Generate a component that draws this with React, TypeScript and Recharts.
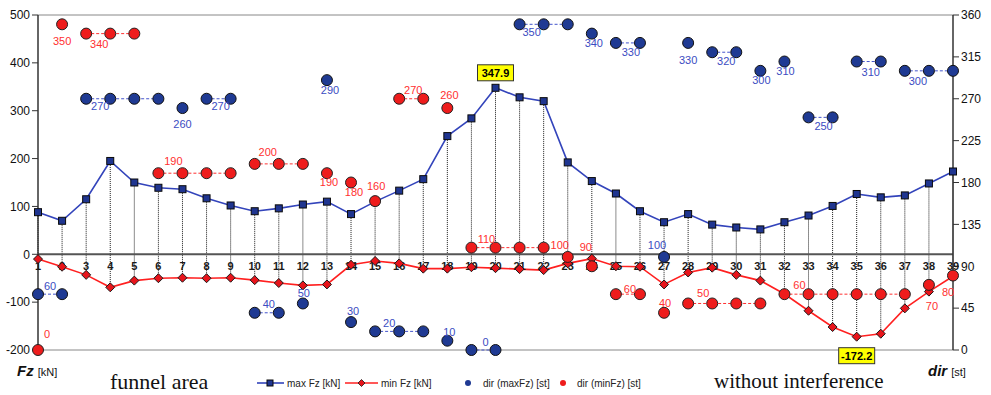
import { ComposedChart, Line, Scatter, XAxis, YAxis, ReferenceLine, ReferenceDot } from 'recharts';

// pile positions along the dolphin row
const categories = [
  1, 2, 3, 4, 5, 6, 7, 8, 9, 10, 11, 12, 13, 14, 15, 16, 17, 18, 19, 20,
  21, 22, 23, 24, 25, 26, 27, 28, 29, 30, 31, 32, 33, 34, 35, 36, 37, 38, 39,
];

const maxFz = [
  88, 70, 115, 195, 150, 139, 136, 117, 102, 90, 96, 104, 110, 84, 110, 133, 157, 247, 284, 347.9,
  328, 320, 192, 153, 127, 90, 67, 84, 62, 56, 52, 67, 81, 101, 126, 119, 123, 148, 173,
];

const minFz = [
  -10, -26, -43, -69, -55, -50, -49, -50, -49, -54, -60, -65, -63, -22, -14, -19, -30, -30, -27, -29,
  -31, -33, -19, -9, -25, -26, -63, -38, -28, -43, -55, -83, -118, -152, -172.2, -166, -113, -78, -46,
];

const dirMax = [
  60, 60, 270, 270, 270, 270, 260, 270, 270, 40, 40, 50, 290, 30, 20, 20, 20, 10, 0, 0,
  350, 350, 350, 340, 330, 330, 100, 330, 320, 320, 300, 310, 250, 250, 310, 310, 300, 300, 300,
];

const dirMin = [
  0, 350, 340, 340, 340, 190, 190, 190, 190, 200, 200, 200, 190, 180, 160, 270, 270, 260, 110, 110,
  110, 110, 100, 90, 60, 60, 40, 50, 50, 50, 50, 60, 60, 60, 60, 60, 60, 70, 80,
];

const fzTicks = [-200, -100, 0, 100, 200, 300, 400, 500];
const dirTicks = [0, 45, 90, 135, 180, 225, 270, 315, 360];

// where each direction label sits: [category, between this and next point, dx, dy]
const blueLabelPos: [number, boolean, number, number][] = [
  [1, true, 0, -8], [3, true, 2, 7], [7, false, 0, 16], [8, true, 2, 7], [10, true, 2, -9],
  [12, false, 1, -10], [13, false, 3, 10], [14, false, 2, -11], [15, true, 2, -8], [18, false, 2, -9],
  [19, true, 2, -8], [21, true, 0, 8], [24, false, 2, 9], [25, true, 3, 9], [27, false, -7, -12],
  [28, false, 0, 17], [29, true, 2, 9], [31, false, 1, 9], [32, false, 1, 9], [33, true, 3, 9],
  [35, true, 2, 10], [37, true, 1, 10],
];

const redLabelPos: [number, boolean, number, number][] = [
  [1, false, 9, -16], [2, false, 0, 17], [3, true, 1, 10], [6, true, 3, -12], [10, true, 1, -12],
  [13, false, 2, 9], [14, false, 3, 9], [15, false, 1, -15], [16, true, 2, -9], [18, false, 2, -13],
  [19, true, 3, -9], [23, false, -8, -12], [24, false, -6, -19], [25, true, 2, -5], [27, false, 1, -10],
  [28, true, 3, -10], [32, true, 3, -9], [38, false, 3, 21], [39, false, -5, 16],
];

const rows = categories.map((c, i) => ({
  x: c, maxFz: maxFz[i], minFz: minFz[i], dirMax: dirMax[i], dirMin: dirMin[i],
}));

// runs of equal direction on neighbouring piles get a dashed connector
function equalRuns(values: number[]) {
  const runs: { start: number; end: number }[] = [];
  let s = 0;
  for (let i = 1; i <= values.length; i++) {
    if (i === values.length || values[i] !== values[s]) {
      if (i - 1 > s) runs.push({ start: categories[s], end: categories[i - 1] });
      s = i;
    }
  }
  return runs;
}

const blueRuns = equalRuns(dirMax);
const redRuns = equalRuns(dirMin);

const peakIdx = maxFz.indexOf(Math.max(...maxFz));
const lowIdx = minFz.indexOf(Math.min(...minFz));

const FONT = 'Arial, "Liberation Sans", sans-serif';
const BLUE_TXT = '#3b4cc2';
const RED_TXT = '#ff3030';

function SquareDot(p: any) {
  const { cx, cy, index } = p;
  if (cx == null || cy == null) return <g key={`sq${index}`} />;
  return (
    <rect key={`sq${index}`} x={cx - 3.5} y={cy - 3.5} width={7} height={7}
      fill="#1f3590" stroke="#0a0a0a" strokeWidth={1} />
  );
}

function DiamondDot(p: any) {
  const { cx, cy, index } = p;
  if (cx == null || cy == null) return <g key={`dm${index}`} />;
  return (
    <polygon key={`dm${index}`}
      points={`${cx},${cy - 4.5} ${cx + 4.5},${cy} ${cx},${cy + 4.5} ${cx - 4.5},${cy}`}
      fill="#e8141b" stroke="#1a1a1a" strokeWidth={1} />
  );
}

function TickText(p: any) {
  const { cx, cy, index } = p;
  return (
    <text key={`tk${index}`} x={cx} y={cy + 12} textAnchor="middle" dominantBaseline="central"
      fontFamily={FONT} fontSize={11} fontWeight="bold" fill="#1a1a1a">
      {categories[index]}
    </text>
  );
}

function ValueBox({ cx, cy, text, dy }: { cx: number; cy: number; text: string; dy: number }) {
  return (
    <g>
      <rect x={cx - 18} y={cy + dy - 8} width={36} height={16} fill="#ffff00" stroke="#333" strokeWidth={1} />
      <text x={cx} y={cy + dy} textAnchor="middle" dominantBaseline="central"
        fontFamily={FONT} fontSize={11} fontWeight="bold" fill="#000">{text}</text>
    </g>
  );
}

function dirLabels(pos: [number, boolean, number, number][], values: number[], color: string, tag: string) {
  return pos.map(([c, mid, dx, dy]) => {
    const i = categories.indexOf(c);
    return (
      <ReferenceDot key={`${tag}${c}`} yAxisId="right" x={mid ? c + 0.5 : c} y={values[i]} r={0}
        ifOverflow="visible"
        shape={(p: any) => (
          <text x={p.cx + dx} y={p.cy + dy} textAnchor="middle" dominantBaseline="central"
            fontFamily={FONT} fontSize={11} fill={color}>{values[i]}</text>
        )} />
    );
  });
}

export default function App() {
  return (
    <div style={{ position: 'absolute', left: 0, top: 0, width: 991, height: 395, background: '#fff' }}>
      <ComposedChart width={991} height={395} data={rows} margin={{ top: 15, right: 0, bottom: 45, left: 0 }}>
        <XAxis dataKey="x" type="number" domain={[1, 39]} hide />
        <YAxis yAxisId="left" domain={[-200, 500]} ticks={fzTicks} width={38} interval={0}
          axisLine={{ stroke: '#333', strokeWidth: 1.5 }} tickLine={{ stroke: '#333' }}
          tick={{ fill: '#111', fontSize: 12, fontFamily: FONT }} />
        <YAxis yAxisId="right" orientation="right" domain={[0, 360]} ticks={dirTicks} width={38} interval={0}
          axisLine={{ stroke: '#333', strokeWidth: 1.5 }} tickLine={{ stroke: '#333' }}
          tick={{ fill: '#111', fontSize: 12, fontFamily: FONT }} />

        <ReferenceLine yAxisId="left" y={500} stroke="#888" strokeWidth={1} />
        <ReferenceLine yAxisId="left" y={-200} stroke="#888" strokeWidth={1} />

        {categories.map((c, i) => (
          <ReferenceLine key={`v${c}`} yAxisId="left" stroke="#1a1a1a" strokeWidth={1} strokeDasharray="1 1"
            segment={[{ x: c, y: maxFz[i] }, { x: c, y: minFz[i] }]} />
        ))}

        <ReferenceLine yAxisId="left" y={0} stroke="#555" strokeWidth={2} />

        <Line yAxisId="left" dataKey={() => 0} stroke="none" dot={TickText} activeDot={false}
          isAnimationActive={false} legendType="none" />

        {blueRuns.map((r) => (
          <Line key={`br${r.start}`} yAxisId="right"
            dataKey={(d: any) => (d.x >= r.start && d.x <= r.end ? d.dirMax : null)}
            stroke="#4455cc" strokeWidth={1} strokeDasharray="3 2" dot={false} activeDot={false}
            isAnimationActive={false} />
        ))}
        {redRuns.map((r) => (
          <Line key={`rr${r.start}`} yAxisId="right"
            dataKey={(d: any) => (d.x >= r.start && d.x <= r.end ? d.dirMin : null)}
            stroke="#ff3030" strokeWidth={1} strokeDasharray="3 2" dot={false} activeDot={false}
            isAnimationActive={false} />
        ))}

        <Line yAxisId="left" dataKey="maxFz" name="max Fz [kN]" stroke="#3344bb" strokeWidth={1.6}
          dot={SquareDot} activeDot={false} isAnimationActive={false} />
        <Line yAxisId="left" dataKey="minFz" name="min Fz [kN]" stroke="#ff2020" strokeWidth={1.6}
          dot={DiamondDot} activeDot={false} isAnimationActive={false} />

        <Scatter yAxisId="right" dataKey="dirMax" name="dir (maxFz) [st]" isAnimationActive={false}
          shape={(p: any) => <circle cx={p.cx} cy={p.cy} r={5.5} fill="#1f3a93" stroke="#111" strokeWidth={1} />} />
        <Scatter yAxisId="right" dataKey="dirMin" name="dir (minFz) [st]" isAnimationActive={false}
          shape={(p: any) => <circle cx={p.cx} cy={p.cy} r={5.5} fill="#ee1c1c" stroke="#222" strokeWidth={1} />} />

        {dirLabels(blueLabelPos, dirMax, BLUE_TXT, 'bl')}
        {dirLabels(redLabelPos, dirMin, RED_TXT, 'rl')}

        <ReferenceDot yAxisId="left" x={categories[peakIdx]} y={maxFz[peakIdx]} r={0} ifOverflow="visible"
          shape={(p: any) => <ValueBox cx={p.cx} cy={p.cy} text={String(maxFz[peakIdx])} dy={-15} />} />
        <ReferenceDot yAxisId="left" x={categories[lowIdx]} y={minFz[lowIdx]} r={0} ifOverflow="visible"
          shape={(p: any) => <ValueBox cx={p.cx} cy={p.cy} text={String(minFz[lowIdx])} dy={19} />} />
      </ComposedChart>

      {/* axis titles, zone captions and legend */}
      <div style={{ position: 'absolute', left: 17, top: 362, fontFamily: FONT, color: '#111', whiteSpace: 'nowrap' }}>
        <span style={{ fontSize: 15, fontWeight: 'bold', fontStyle: 'italic' }}>Fz</span>
        <span style={{ fontSize: 11, marginLeft: 4 }}>[kN]</span>
      </div>
      <div style={{ position: 'absolute', left: 928, top: 362, fontFamily: FONT, color: '#111', whiteSpace: 'nowrap' }}>
        <span style={{ fontSize: 15, fontWeight: 'bold', fontStyle: 'italic' }}>dir</span>
        <span style={{ fontSize: 11, marginLeft: 4 }}>[st]</span>
      </div>
      <div style={{ position: 'absolute', left: 110, top: 369, fontFamily: '"Liberation Serif", "Times New Roman", serif', fontSize: 22, color: '#111', whiteSpace: 'nowrap' }}>
        funnel area
      </div>
      <div style={{ position: 'absolute', left: 714, top: 369, fontFamily: '"Liberation Serif", "Times New Roman", serif', fontSize: 21, color: '#111', whiteSpace: 'nowrap' }}>
        without interference
      </div>

      <svg style={{ position: 'absolute', left: 0, top: 374 }} width={991} height={18}>
        <g fontFamily={FONT} fontSize={10} fill="#222">
          <line x1={257} y1={9} x2={284} y2={9} stroke="#3344bb" strokeWidth={1.6} />
          <rect x={267} y={6} width={6} height={6} fill="#1f3590" stroke="#0a0a0a" />
          <text x={287} y={9} dominantBaseline="central">max Fz [kN]</text>
          <line x1={345} y1={9} x2={378} y2={9} stroke="#ff2020" strokeWidth={1.6} />
          <polygon points="361.5,5.5 365,9 361.5,12.5 358,9" fill="#e8141b" stroke="#1a1a1a" strokeWidth={0.8} />
          <text x={381} y={9} dominantBaseline="central">min Fz [kN]</text>
          <circle cx={468} cy={9} r={3} fill="#1f3a93" />
          <text x={483} y={9} dominantBaseline="central">dir (maxFz) [st]</text>
          <circle cx={563} cy={9} r={3} fill="#ee1c1c" />
          <text x={577} y={9} dominantBaseline="central">dir (minFz) [st]</text>
        </g>
      </svg>
    </div>
  );
}
